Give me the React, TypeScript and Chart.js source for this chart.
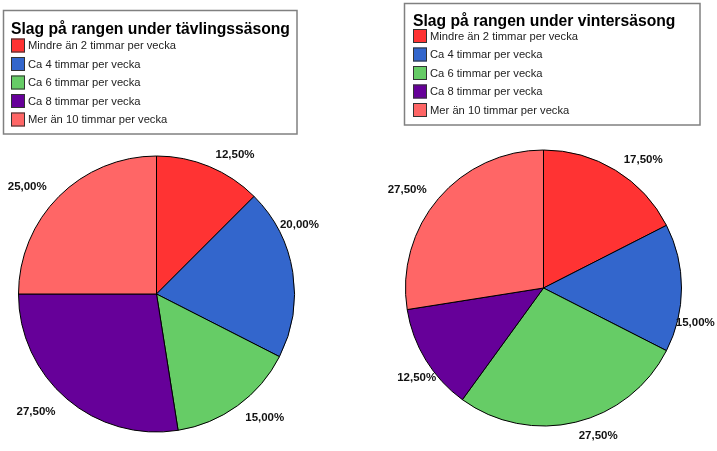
import React, { useEffect, useRef } from "react";
import { Chart, registerables } from "chart.js";

Chart.register(...registerables);

const categories = [
  "Mindre än 2 timmar per vecka",
  "Ca 4 timmar per vecka",
  "Ca 6 timmar per vecka",
  "Ca 8 timmar per vecka",
  "Mer än 10 timmar per vecka",
];
const tavlingValues = [12.5, 20, 15, 27.5, 25];
const vinterValues = [17.5, 15, 27.5, 12.5, 27.5];
const tavlingTitle = "Slag på rangen under tävlingssäsong";
const vinterTitle = "Slag på rangen under vintersäsong";
const colors = ["#FF3333", "#3366CC", "#66CC66", "#660099", "#FF6666"];

// label placement tweaks (angle shift in degrees from slice middle, gap beyond the rim)
const tavlingLabelShift = [6.8, -17, -5.3, 5.3, -5.3];
const tavlingLabelGap = [22.5, 21, 26, 30, 30];
const vinterLabelShift = [6.2, 12.6, -6.9, -3.6, -4.5];
const vinterLabelGap = [25, 17.5, 19, 17, 30.5];

const FONT = "Arial, 'Liberation Sans', sans-serif";

type LegendCfg = {
  box: [number, number, number, number];
  titleX: number;
  titleY: number;
  itemX: number;
  firstY: number;
  step: number;
};

function makePlugin(title: string, lg: LegendCfg, shift: number[], gap: number[]) {
  return {
    id: "customDecor",
    afterDatasetsDraw(chart: any) {
      const ctx = chart.ctx;
      const meta = chart.getDatasetMeta(0);
      const data = chart.data.datasets[0].data as number[];
      ctx.save();
      ctx.font = `bold 11.5px ${FONT}`;
      ctx.fillStyle = "#111";
      ctx.textAlign = "center";
      ctx.textBaseline = "middle";
      meta.data.forEach((arc: any, i: number) => {
        const p = arc.getProps(["x", "y", "startAngle", "endAngle", "outerRadius"], true);
        const mid = (p.startAngle + p.endAngle) / 2 + (shift[i] * Math.PI) / 180;
        const d = p.outerRadius + gap[i];
        const x = p.x + Math.cos(mid) * d;
        const y = p.y + Math.sin(mid) * d;
        const txt = data[i].toFixed(2).replace(".", ",") + "%";
        ctx.fillText(txt, x, y + 0.5);
      });
      ctx.restore();
    },
    afterDraw(chart: any) {
      const ctx = chart.ctx;
      const [bx, by, bw, bh] = lg.box;
      ctx.save();
      ctx.strokeStyle = "#808080";
      ctx.lineWidth = 1.5;
      ctx.strokeRect(bx, by, bw, bh);
      ctx.fillStyle = "#000";
      ctx.font = `bold 15.7px ${FONT}`;
      ctx.textAlign = "left";
      ctx.textBaseline = "alphabetic";
      ctx.fillText(title, lg.titleX, lg.titleY);
      ctx.font = `11.2px ${FONT}`;
      ctx.textBaseline = "middle";
      const labels = chart.data.labels as string[];
      const bg = chart.data.datasets[0].backgroundColor as string[];
      labels.forEach((lab, i) => {
        const cy = lg.firstY + i * lg.step;
        ctx.fillStyle = bg[i];
        ctx.fillRect(lg.itemX, cy - 7, 14, 14);
        ctx.strokeStyle = "#333";
        ctx.lineWidth = 1;
        ctx.strokeRect(lg.itemX + 0.5, cy - 6.5, 13, 13);
        ctx.fillStyle = "#222";
        ctx.fillText(lab, lg.itemX + 17, cy + 0.5);
      });
      ctx.restore();
    },
  };
}

function PieChart(props: {
  values: number[];
  title: string;
  left: number;
  width: number;
  padding: { left: number; right: number; top: number; bottom: number };
  legend: LegendCfg;
  shift: number[];
  gap: number[];
}) {
  const ref = useRef<HTMLCanvasElement>(null);
  useEffect(() => {
    if (!ref.current) return;
    const chart = new Chart(ref.current, {
      type: "pie",
      data: {
        labels: categories,
        datasets: [
          {
            data: props.values,
            backgroundColor: colors,
            borderColor: "#000",
            borderWidth: 1,
          },
        ],
      },
      options: {
        animation: false,
        responsive: false,
        events: [],
        layout: { padding: props.padding },
        plugins: {
          legend: { display: false },
          tooltip: { enabled: false },
        },
      },
      plugins: [makePlugin(props.title, props.legend, props.shift, props.gap)],
    });
    return () => chart.destroy();
  }, []);
  return (
    <canvas
      ref={ref}
      width={props.width}
      height={451}
      style={{ position: "absolute", left: props.left, top: 0, width: props.width, height: 451 }}
    />
  );
}

export default function App() {
  return (
    <div
      style={{
        position: "fixed",
        left: 0,
        top: 0,
        width: 717,
        height: 451,
        background: "#fff",
        overflow: "hidden",
      }}
    >
      <PieChart
        values={tavlingValues}
        title={tavlingTitle}
        left={0}
        width={358}
        padding={{ left: 18, right: 63, top: 155.5, bottom: 18.5 }}
        legend={{ box: [3.5, 10.5, 293.5, 123.5], titleX: 11, titleY: 34, itemX: 11, firstY: 45.5, step: 18.5 }}
        shift={tavlingLabelShift}
        gap={tavlingLabelGap}
      />
      <PieChart
        values={vinterValues}
        title={vinterTitle}
        left={358}
        width={359}
        padding={{ left: 47, right: 35, top: 149.5, bottom: 24.5 }}
        legend={{ box: [46.5, 3.5, 295.5, 121.5], titleX: 55, titleY: 26, itemX: 55, firstY: 36, step: 18.5 }}
        shift={vinterLabelShift}
        gap={vinterLabelGap}
      />
    </div>
  );
}
